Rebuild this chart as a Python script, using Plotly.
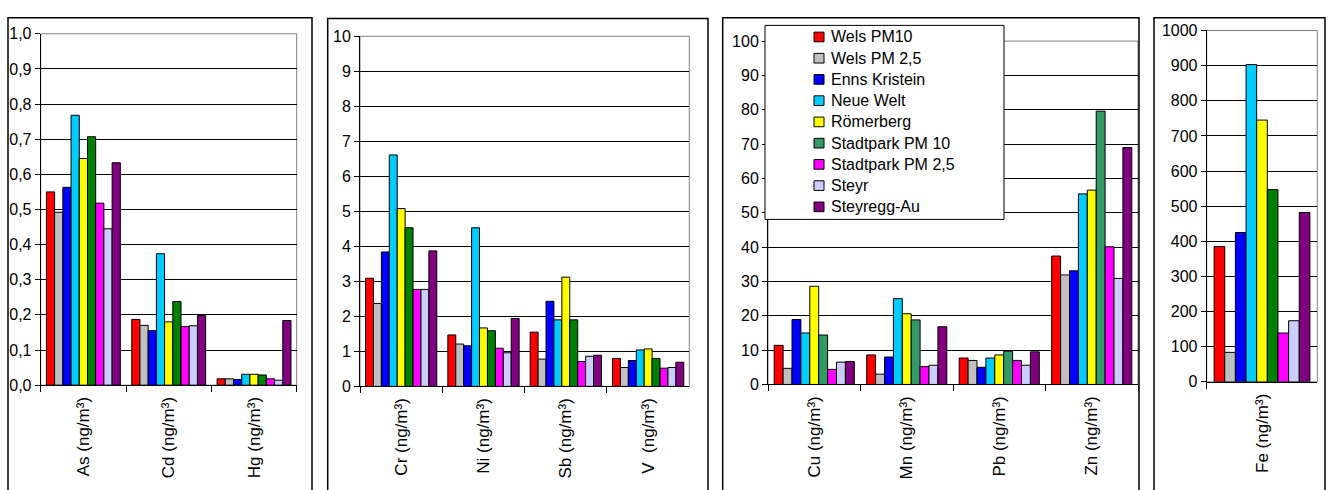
import plotly.graph_objects as go

# Measuring stations (one bar series each)
stations = ["Wels PM10", "Wels PM 2,5", "Enns Kristein", "Neue Welt", "Römerberg",
            "Stadtpark PM 10", "Stadtpark PM 2,5", "Steyr", "Steyregg-Au"]
colors = ["#FF0000", "#C0C0C0", "#0000FF", "#00CCFF", "#FFFF00",
          "#008000", "#FF00FF", "#CCCCFF", "#800080"]
colors_cu_zn = ["#FF0000", "#C0C0C0", "#0000FF", "#00CCFF", "#FFFF00",
                "#339966", "#FF00FF", "#CCCCFF", "#800080"]

# Annual mean concentrations per element, one value per station (ng/m³)
as_ng = [0.550, 0.492, 0.563, 0.768, 0.645, 0.707, 0.518, 0.445, 0.633]
cd_ng = [0.187, 0.170, 0.155, 0.374, 0.180, 0.238, 0.167, 0.169, 0.198]
hg_ng = [0.018, 0.018, 0.016, 0.031, 0.031, 0.029, 0.018, 0.014, 0.184]
cr_ng = [3.09, 2.37, 3.84, 6.61, 5.08, 4.53, 2.77, 2.77, 3.87]
ni_ng = [1.47, 1.21, 1.16, 4.53, 1.67, 1.59, 1.09, 0.96, 1.94]
sb_ng = [1.55, 0.78, 2.43, 1.90, 3.12, 1.90, 0.71, 0.86, 0.89]
v_ng = [0.80, 0.54, 0.74, 1.04, 1.07, 0.80, 0.52, 0.54, 0.69]
cu_ng = [11.4, 4.7, 18.9, 15.0, 28.6, 14.4, 4.4, 6.5, 6.7]
mn_ng = [8.6, 3.0, 8.0, 25.0, 20.6, 18.8, 5.2, 5.6, 16.8]
pb_ng = [7.7, 7.0, 5.0, 7.7, 8.6, 9.7, 7.0, 5.6, 9.5]
zn_ng = [37.4, 31.9, 33.1, 55.5, 56.6, 79.6, 40.1, 30.9, 69.0]
fe_ng = [385, 84, 425, 903, 745, 547, 139, 174, 482]

# Category labels per panel
labels_1 = ["As (ng/m³)", "Cd (ng/m³)", "Hg (ng/m³)"]
labels_2 = ["Cr (ng/m³)", "Ni (ng/m³)", "Sb (ng/m³)", "V\u00a0 (ng/m³)"]
labels_3 = ["Cu (ng/m³)", "Mn (ng/m³)", "Pb (ng/m³)", "Zn (ng/m³)"]
labels_4 = ["Fe (ng/m³)"]

panels = [
    dict(labels=labels_1, series=[as_ng, cd_ng, hg_ng], colors=colors,
         yrange=[0, 1], dtick=0.1, fmt=".1f"),
    dict(labels=labels_2, series=[cr_ng, ni_ng, sb_ng, v_ng], colors=colors,
         yrange=[0, 10], dtick=1, fmt="d"),
    dict(labels=labels_3, series=[cu_ng, mn_ng, pb_ng, zn_ng], colors=colors_cu_zn,
         yrange=[0, 100], dtick=10, fmt="d"),
    dict(labels=labels_4, series=[fe_ng], colors=colors,
         yrange=[0, 1000], dtick=100, fmt="d"),
]

W, H = 1329, 490
# plot-area pixel boxes (left, right, top, bottom) and panel frames
plot_px = [(40.7, 296.7, 26.7, 390.7), (360, 689.3, 29.3, 392),
           (768, 1138, 34.3, 390), (1206.7, 1317.3, 23.3, 387.3)]
frame_px = [(8, 312, 10), (327.7, 708, 11), (722.7, 1139, 10), (1154, 1325, 10)]

font = "Liberation Sans, Arial, sans-serif"
fig = go.Figure()

for p, panel in enumerate(panels):
    ax = "" if p == 0 else str(p + 1)
    for s, name in enumerate(stations):
        fig.add_trace(go.Bar(
            x=panel["labels"],
            y=[vals[s] for vals in panel["series"]],
            name=name,
            marker=dict(color=panel["colors"][s], line=dict(color="black", width=1)),
            xaxis="x" + ax, yaxis="y" + ax,
            showlegend=False,
        ))
    l, r, t, b = plot_px[p]
    fig.layout["xaxis" + ax] = dict(
        domain=[l / W, r / W], anchor="y" + ax, type="category",
        showline=True, linecolor="black", linewidth=1,
        ticks="outside", ticklen=6, tickcolor="black", tickson="boundaries",
        tickangle=-90, showgrid=False, ticklabelstandoff=4,
        tickfont=dict(family=font, size=17, color="black"),
    )
    fig.layout["yaxis" + ax] = dict(
        domain=[1 - b / H, 1 - t / H], anchor="x" + ax,
        range=panel["yrange"], dtick=panel["dtick"], tickformat=panel["fmt"],
        showline=True, linecolor="black", linewidth=1,
        ticks="outside", ticklen=5, tickcolor="black",
        showgrid=True, gridcolor="black", gridwidth=1, zeroline=False,
        tickfont=dict(family=font, size=16, color="black"),
    )
    # grey plot-area frame
    fig.add_shape(type="rect", xref="x" + ax + " domain", yref="y" + ax + " domain",
                  x0=0, x1=1, y0=0, y1=1, line=dict(color="#808080", width=1),
                  layer="below")
    # panel frame
    fl, fr, ft = frame_px[p]
    fig.add_shape(type="rect", xref="paper", yref="paper",
                  x0=fl / W, x1=fr / W, y0=-0.2, y1=1 - ft / H,
                  line=dict(color="black", width=1.5), layer="above")

# legend box inside the third panel: colour key with station names
fig.add_shape(type="rect", xref="paper", yref="paper",
              x0=765 / W, x1=1004 / W, y0=1 - 219 / H, y1=1 - 18 / H,
              line=dict(color="black", width=1), fillcolor="white", layer="above")
row_top, row_step = 30, 22
for s, name in enumerate(stations):
    yc = row_top + s * row_step
    fig.add_shape(type="rect", xref="paper", yref="paper",
                  x0=814 / W, x1=824 / W, y0=1 - (yc + 5) / H, y1=1 - (yc - 5) / H,
                  line=dict(color="black", width=1), fillcolor=colors_cu_zn[s],
                  layer="above")
    fig.add_annotation(xref="paper", yref="paper", x=829 / W, y=1 - yc / H,
                       text=name, showarrow=False, xanchor="left", yanchor="middle",
                       font=dict(family=font, size=16, color="black"))

fig.update_layout(
    width=W, height=H, autosize=False,
    margin=dict(l=0, r=0, t=0, b=0),
    paper_bgcolor="white", plot_bgcolor="white",
    barmode="group", bargap=0.134, bargroupgap=0,
    separators=", ",
    showlegend=False,
)

fig.write_html("out.html")
